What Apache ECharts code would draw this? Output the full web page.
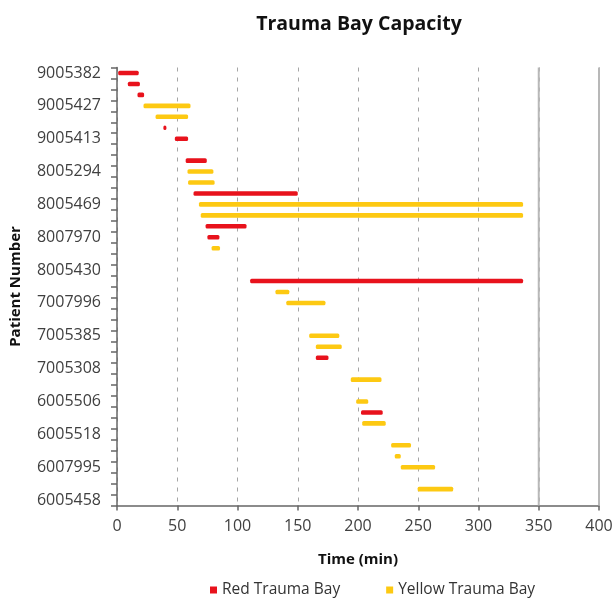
<!DOCTYPE html>
<html>
<head>
<meta charset="utf-8">
<title>Trauma Bay Capacity</title>
<script src="https://cdn.jsdelivr.net/npm/echarts@6/dist/echarts.min.js"></script>
<style>
  html, body { margin: 0; padding: 0; background: #ffffff; overflow: hidden; }
  #chart { width: 614px; height: 599px; }
</style>
</head>
<body>
<div id="chart"></div>
<script>
// One row per bay occupancy; every third row carries the patient number.
const rowLabels = [
  '9005382', '', '', '9005427', '', '', '9005413', '', '',
  '8005294', '', '', '8005469', '', '', '8007970', '', '',
  '8005430', '', '', '7007996', '', '', '7005385', '', '',
  '7005308', '', '', '6005506', '', '', '6005518', '', '',
  '6007995', '', '', '6005458'
];

// Red Trauma Bay occupancy: row index, start and end time (min)
const redRows  = [0, 1, 2, 5, 6, 8, 11, 14, 15, 19, 26, 31];
const redStart = [1, 9, 17, 38.5, 48, 57, 63.5, 73.5, 75, 110.5, 165, 202.5];
const redEnd   = [18, 19, 22.5, 41, 59, 74.5, 150, 107.5, 85, 337, 175.5, 220.5];

// Yellow Trauma Bay occupancy: row index, start and end time (min)
const yellowRows  = [3, 4, 9, 10, 12, 13, 16, 20, 21, 24, 25, 28, 30, 32, 34, 35, 36, 38];
const yellowStart = [22, 32, 58.5, 59, 68, 69.5, 78.5, 131.5, 140.5, 159.5, 165, 194, 198.5, 203.5, 227.5, 230.5, 235.5, 249.5];
const yellowEnd   = [61, 59, 80, 81, 337, 337, 85.5, 143, 173, 184.5, 186.5, 219.5, 208.5, 223, 244, 235.5, 264, 279];

// Time axis range and the solid reference lines near the right edge
const timeMin = 0, timeMax = 400, timeStep = 50;
const solidLines = [350, 400];

const FONT = 'Open Sans';
const RED = '#e8121c';
const YELLOW = '#fdc912';

function toItems(rows, start, end) {
  return rows.map((r, i) => [start[i], end[i], r]);
}

function drawSpan(params, api) {
  const row = api.value(2);
  const a = api.coord([api.value(0), row]);
  const b = api.coord([api.value(1), row]);
  const h = 4.6;
  return {
    type: 'rect',
    shape: { x: a[0], y: a[1] - h / 2, width: b[0] - a[0], height: h, r: 1.5 },
    style: { fill: api.visual('color') }
  };
}

// Full-height solid lines at the given times
function drawVerticals(params, api) {
  const cs = params.coordSys;
  const w = 2;
  const children = [api.value(0), api.value(1)].map(v => {
    const x = api.coord([v, 0])[0];
    return {
      type: 'rect',
      shape: { x: x - w / 2, y: cs.y, width: w, height: cs.height },
      style: { fill: '#b8b8b8' }
    };
  });
  return { type: 'group', children };
}

const chart = echarts.init(document.getElementById('chart'), null, { renderer: 'canvas' });

chart.setOption({
  animation: false,
  backgroundColor: '#ffffff',
  title: {
    text: 'Trauma Bay Capacity',
    left: 354,
    textAlign: 'center',
    top: 9,
    textStyle: { fontFamily: FONT, fontSize: 19.5, fontWeight: 'bold', color: '#111111' }
  },
  legend: {
    left: 205,
    top: 577,
    itemWidth: 7,
    itemHeight: 7,
    itemGap: 46,
    icon: 'rect',
    textStyle: { fontFamily: FONT, fontSize: 15.5, color: '#333333' },
    data: ['Red Trauma Bay', 'Yellow Trauma Bay']
  },
  grid: { left: 117, right: 15, top: 67.5, bottom: 93.5, containLabel: false, outerBoundsMode: 'none' },
  xAxis: {
    type: 'value',
    min: timeMin,
    max: timeMax,
    interval: timeStep,
    name: 'Time (min)',
    nameLocation: 'middle',
    nameGap: 47,
    nameTextStyle: { fontFamily: FONT, fontSize: 15, fontWeight: 'bold', color: '#111111' },
    axisLine: { show: true, lineStyle: { color: '#666666', width: 1.5 } },
    axisTick: { show: true, length: 5, lineStyle: { color: '#666666', width: 1.5 } },
    axisLabel: { fontFamily: FONT, fontSize: 16, color: '#404040', margin: 13 },
    splitLine: { show: true, showMaxLine: true, lineStyle: { color: '#a6a6a6', type: [4, 6], width: 1 } }
  },
  yAxis: {
    type: 'category',
    inverse: true,
    data: rowLabels,
    boundaryGap: true,
    name: 'Patient Number',
    nameLocation: 'middle',
    nameGap: 94,
    nameRotate: 90,
    nameTextStyle: { fontFamily: FONT, fontSize: 15, fontWeight: 'bold', color: '#111111' },
    axisLine: { show: true, lineStyle: { color: '#666666', width: 1.5 } },
    axisTick: { show: true, length: 6, interval: 0, alignWithLabel: false, lineStyle: { color: '#666666', width: 1.5 } },
    axisLabel: { interval: 0, fontFamily: FONT, fontSize: 16, color: '#404040', margin: 16 },
    splitLine: { show: false }
  },
  series: [
    {
      name: 'reference lines',
      type: 'custom',
      renderItem: drawVerticals,
      encode: { x: [0, 1], y: 2 },
      data: [[solidLines[0], solidLines[1], 0]],
      clip: false,
      silent: true,
      z: 10
    },
    {
      name: 'Red Trauma Bay',
      type: 'custom',
      renderItem: drawSpan,
      itemStyle: { color: RED },
      encode: { x: [0, 1], y: 2 },
      data: toItems(redRows, redStart, redEnd),
      z: 3
    },
    {
      name: 'Yellow Trauma Bay',
      type: 'custom',
      renderItem: drawSpan,
      itemStyle: { color: YELLOW },
      encode: { x: [0, 1], y: 2 },
      data: toItems(yellowRows, yellowStart, yellowEnd),
      z: 3
    }
  ]
});
</script>
</body>
</html>
